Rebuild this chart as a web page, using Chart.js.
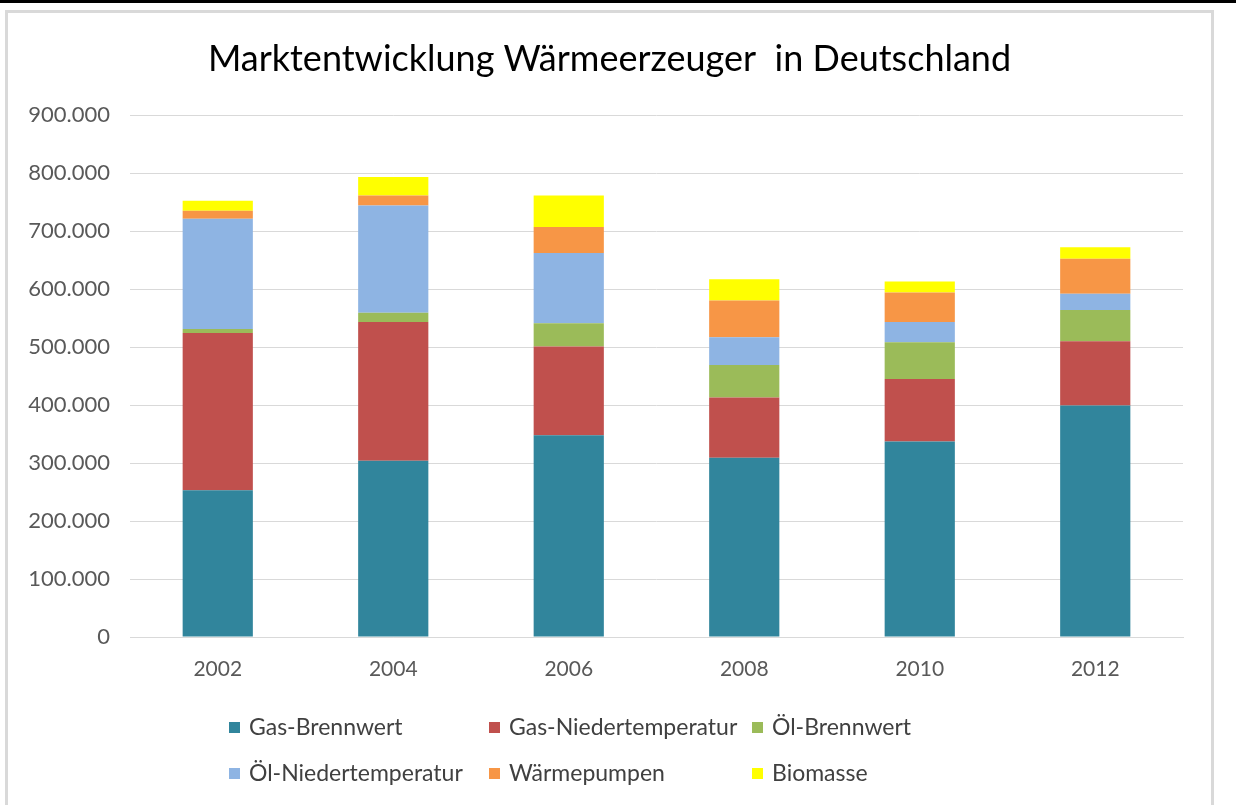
<!DOCTYPE html>
<html>
<head>
<meta charset="utf-8">
<script src="https://cdn.jsdelivr.net/npm/chart.js@4.4.1/dist/chart.umd.min.js"></script>
<style>
    html, body { margin: 0; padding: 0; background: #fff; }
    #topbar { position: absolute; left: 0; top: 0; width: 1236px; height: 3px; background: #000; }
    #frame {
        position: absolute; left: 5px; top: 10px; width: 1203px; height: 800px;
        border: 3px solid #d9d9d9; border-bottom: none;
    }
    #wrap { position: absolute; left: 0; top: 0; width: 1203px; height: 792px; }
</style>
</head>
<body>
<div id="topbar"></div>
<div id="frame">
    <div id="wrap"><canvas id="chart"></canvas></div>
</div>
<script>
// Data
const years = ['2002', '2004', '2006', '2008', '2010', '2012'];
const gasBrennwert = [253000, 304000, 348000, 309000, 337000, 399000];
const gasNieder = [271000, 239000, 153000, 104000, 108000, 111000];
const oelBrennwert = [7000, 16000, 40000, 56000, 63000, 54000];
const oelNieder = [190000, 185000, 121000, 48000, 35000, 28000];
const waermepumpen = [14000, 17000, 45000, 63000, 51000, 60000];
const biomasse = [17000, 32000, 54000, 37000, 19000, 20000];
const yTicks = [0, 100000, 200000, 300000, 400000, 500000, 600000, 700000, 800000, 900000];

const chartTitle = 'Marktentwicklung Wärmeerzeuger  in Deutschland';
const seriesNames = ['Gas-Brennwert', 'Gas-Niedertemperatur', 'Öl-Brennwert',
    'Öl-Niedertemperatur', 'Wärmepumpen', 'Biomasse'];
const seriesColors = ['#31859C', '#C0504D', '#9BBB59', '#8EB4E3', '#F79646', '#FFFF00'];
const seriesValues = [gasBrennwert, gasNieder, oelBrennwert, oelNieder, waermepumpen, biomasse];

const FONT = 'Lato, "Noto Sans", sans-serif';

function formatThousands(v) {
    return v.toString().replace(/\B(?=(\d{3})+(?!\d))/g, '.');
}

// Title centred on the whole frame (not on the plot), plus a 3-column legend grid
const frameDecor = {
    id: 'frameDecor',
    afterDraw(chart) {
        const ctx = chart.ctx;
        ctx.save();
        ctx.font = '36px ' + FONT;
        ctx.fillStyle = '#000';
        ctx.textAlign = 'center';
        ctx.textBaseline = 'middle';
        ctx.fillText(chartTitle, chart.width / 2, 46);

        const colX = [221, 481, 744];
        const rowY = [714, 760];
        ctx.font = '23px ' + FONT;
        ctx.textAlign = 'left';
        chart.data.datasets.forEach((ds, i) => {
            const x = colX[i % 3];
            const y = rowY[Math.floor(i / 3)];
            ctx.fillStyle = ds.backgroundColor;
            ctx.fillRect(x, y - 5, 11, 11);
            ctx.fillStyle = '#404040';
            ctx.fillText(ds.label, x + 20, y + 1);
        });
        ctx.restore();
    }
};

const datasets = seriesNames.map((name, i) => ({
    label: name,
    data: seriesValues[i],
    backgroundColor: seriesColors[i],
    borderWidth: 0,
    barPercentage: 0.4,
    categoryPercentage: 1.0
}));

const ctx = document.getElementById('chart').getContext('2d');
new Chart(ctx, {
    type: 'bar',
    data: { labels: years, datasets: datasets },
    options: {
        responsive: true,
        maintainAspectRatio: false,
        animation: false,
        layout: { padding: { top: 102, right: 28, bottom: 108, left: 0 } },
        plugins: {
            legend: { display: false },
            tooltip: { enabled: false },
            title: { display: false }
        },
        scales: {
            x: {
                stacked: true,
                grid: { display: false, drawTicks: false },
                border: { display: true, color: '#d9d9d9', width: 1 },
                ticks: { color: '#595959', font: { family: FONT, size: 21 }, padding: 20 },
                afterFit(scale) { scale.height = 60; }
            },
            y: {
                stacked: true,
                min: 0,
                max: 900000,
                afterBuildTicks(scale) { scale.ticks = yTicks.map(v => ({ value: v })); },
                grid: { color: '#d9d9d9', drawTicks: false },
                border: { display: false },
                ticks: {
                    color: '#595959',
                    font: { family: FONT, size: 22 },
                    padding: 20,
                    callback: v => formatThousands(v)
                },
                afterFit(scale) { scale.width = 122; }
            }
        }
    },
    plugins: [frameDecor]
});
</script>
</body>
</html>
